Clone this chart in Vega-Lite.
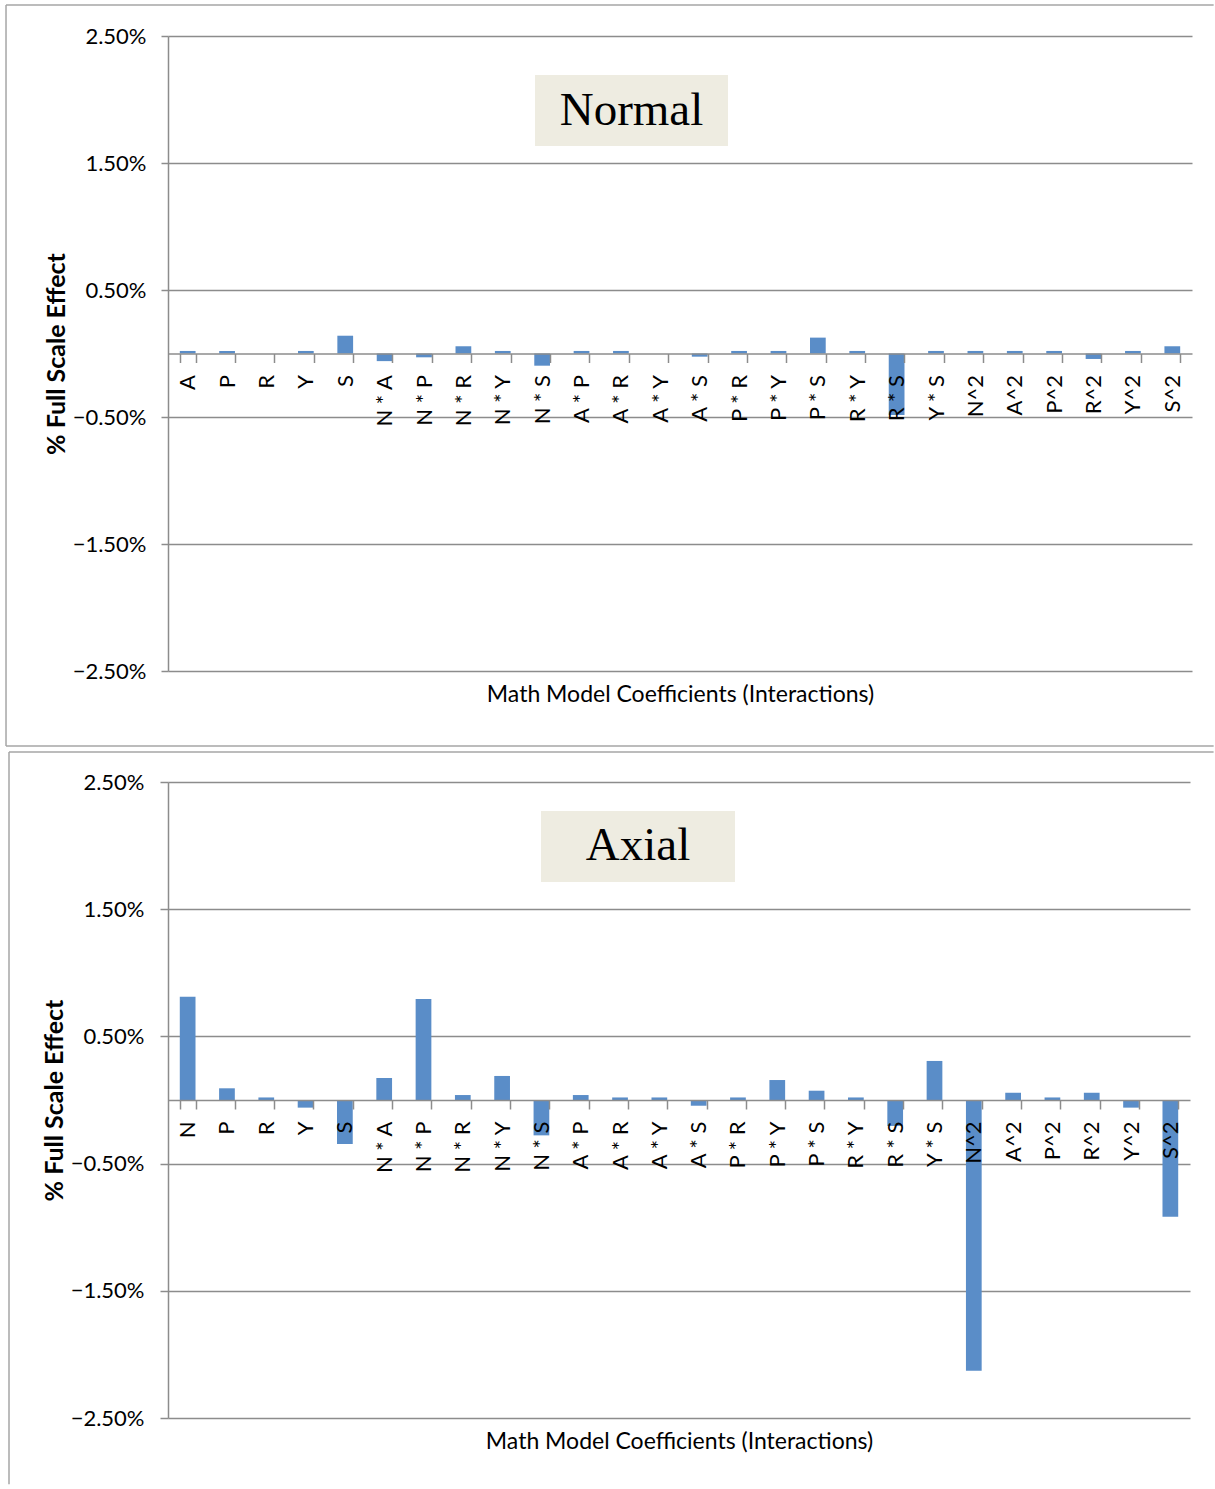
{
  "$schema": "https://vega.github.io/schema/vega-lite/v6.json",
  "padding": {"left": 5, "top": 4, "right": 0, "bottom": 0},
  "background": "white",
  "spacing": 4,
  "config": {"view": {"stroke": null}, "font": "Lato"},
  "vconcat": [
    {
      "width": 1024,
      "height": 635,
      "resolve": {"scale": {"x": "independent", "y": "independent"}},
      "layer": [
        {
          "data": {"values": [{}]},
          "mark": {"type": "rule", "color": "#A6A6A6", "strokeWidth": 1.5},
          "encoding": {
            "x": {"datum": -4.113, "type": "quantitative", "scale": {"domain": [0, 26], "nice": false, "zero": false}, "axis": null},
            "y": {"datum": 0.027441, "type": "quantitative", "scale": {"domain": [-0.025, 0.025], "nice": false, "zero": false}, "axis": null},
            "y2": {"datum": -0.030906}
          }
        },
        {
          "data": {"values": [{}]},
          "mark": {"type": "rule", "color": "#A6A6A6", "strokeWidth": 1.5},
          "encoding": {
            "x": {"datum": -4.113, "type": "quantitative", "scale": {"domain": [0, 26], "nice": false, "zero": false}, "axis": null},
            "x2": {"datum": 26.55},
            "y": {"datum": 0.027441, "type": "quantitative", "scale": {"domain": [-0.025, 0.025], "nice": false, "zero": false}, "axis": null}
          }
        },
        {
          "data": {"values": [{}]},
          "mark": {"type": "rule", "color": "#A6A6A6", "strokeWidth": 1.5},
          "encoding": {
            "x": {"datum": -4.113, "type": "quantitative", "scale": {"domain": [0, 26], "nice": false, "zero": false}, "axis": null},
            "x2": {"datum": 26.55},
            "y": {"datum": -0.030906, "type": "quantitative", "scale": {"domain": [-0.025, 0.025], "nice": false, "zero": false}, "axis": null}
          }
        },
        {
          "data": {"values": [
            {"term": "A", "effect": 0.0002},
            {"term": "P", "effect": 0.0002},
            {"term": "R", "effect": 0.0},
            {"term": "Y", "effect": 0.0002},
            {"term": "S", "effect": 0.0014},
            {"term": "N * A", "effect": -0.0006},
            {"term": "N * P", "effect": -0.0003},
            {"term": "N * R", "effect": 0.00057},
            {"term": "N * Y", "effect": 0.0002},
            {"term": "N * S", "effect": -0.00096},
            {"term": "A * P", "effect": 0.0002},
            {"term": "A * R", "effect": 0.0002},
            {"term": "A * Y", "effect": 0.0},
            {"term": "A * S", "effect": -0.00025},
            {"term": "P * R", "effect": 0.0002},
            {"term": "P * Y", "effect": 0.0002},
            {"term": "P * S", "effect": 0.00125},
            {"term": "R * Y", "effect": 0.0002},
            {"term": "R * S", "effect": -0.00484},
            {"term": "Y * S", "effect": 0.0002},
            {"term": "N^2", "effect": 0.0002},
            {"term": "A^2", "effect": 0.0002},
            {"term": "P^2", "effect": 0.0002},
            {"term": "R^2", "effect": -0.00043},
            {"term": "Y^2", "effect": 0.0002},
            {"term": "S^2", "effect": 0.00057}
          ]},
          "mark": {"type": "bar", "color": "#5A8DC8"},
          "encoding": {
            "x": {
              "field": "term", "type": "nominal", "sort": null,
              "scale": {"paddingInner": 0.6, "paddingOuter": 0.3},
              "axis": {
                "title": "Math Model Coefficients (Interactions)",
                "offset": -317.5, "labelAngle": -90, "labelPadding": 12, "labelFontSize": 22,
                "labelColor": "#000000", "labelOverlap": false, "tickBand": "extent", "tickSize": 9,
                "tickColor": "#8C8C8C", "tickWidth": 1.5, "domainColor": "#8C8C8C", "domainWidth": 1.5,
                "titleY": 340.5, "titleBaseline": "middle", "titleFontSize": 23, "titleFontWeight": "normal",
                "titleColor": "#000000", "zindex": 1, "grid": false
              }
            },
            "y": {
              "field": "effect", "type": "quantitative",
              "scale": {"domain": [-0.025, 0.025], "nice": false},
              "axis": {
                "title": "% Full Scale Effect", "values": [-0.025, -0.015, -0.005, 0.005, 0.015, 0.025],
                "format": ".2%", "grid": true, "gridColor": "#8C8C8C", "gridWidth": 1.5,
                "domainColor": "#8C8C8C", "domainWidth": 1.5, "tickColor": "#8C8C8C", "tickWidth": 1.5,
                "tickSize": 7, "labelPadding": 15, "labelFontSize": 22, "labelColor": "#000000",
                "titleFontSize": 25, "titleFontWeight": "bold", "titleColor": "#000000", "titlePadding": 3, "zindex": 0
              }
            },
            "y2": {"datum": 0}
          }
        },
        {
          "data": {"values": [{}]},
          "mark": {"type": "rect", "color": "#EEECE1"},
          "encoding": {
            "x": {"datum": 9.318, "type": "quantitative", "scale": {"domain": [0, 26], "nice": false, "zero": false}, "axis": null},
            "x2": {"datum": 14.219},
            "y": {"datum": 0.02193, "type": "quantitative", "scale": {"domain": [-0.025, 0.025], "nice": false, "zero": false}, "axis": null},
            "y2": {"datum": 0.01634}
          }
        },
        {
          "data": {"values": [{"label": "Normal"}]},
          "mark": {"type": "text", "font": "Liberation Serif", "fontSize": 47, "color": "#000000", "align": "center", "baseline": "middle"},
          "encoding": {
            "text": {"field": "label"},
            "x": {"datum": 11.768, "type": "quantitative", "scale": {"domain": [0, 26], "nice": false, "zero": false}, "axis": null},
            "y": {"datum": 0.01913, "type": "quantitative", "scale": {"domain": [-0.025, 0.025], "nice": false, "zero": false}, "axis": null}
          }
        }
      ]
    },
    {
      "width": 1022,
      "height": 636,
      "resolve": {"scale": {"x": "independent", "y": "independent"}},
      "layer": [
        {
          "data": {"values": [{}]},
          "mark": {"type": "rule", "color": "#A6A6A6", "strokeWidth": 1.5},
          "encoding": {
            "x": {"datum": -4.045, "type": "quantitative", "scale": {"domain": [0, 26], "nice": false, "zero": false}, "axis": null},
            "y": {"datum": 0.027358, "type": "quantitative", "scale": {"domain": [-0.025, 0.025], "nice": false, "zero": false}, "axis": null},
            "y2": {"datum": -0.0302}
          }
        },
        {
          "data": {"values": [{}]},
          "mark": {"type": "rule", "color": "#A6A6A6", "strokeWidth": 1.5},
          "encoding": {
            "x": {"datum": -4.045, "type": "quantitative", "scale": {"domain": [0, 26], "nice": false, "zero": false}, "axis": null},
            "x2": {"datum": 26.6},
            "y": {"datum": 0.027358, "type": "quantitative", "scale": {"domain": [-0.025, 0.025], "nice": false, "zero": false}, "axis": null}
          }
        },
        {
          "data": {"values": [
            {"term": "N", "effect": 0.00812},
            {"term": "P", "effect": 0.00092},
            {"term": "R", "effect": 0.0002},
            {"term": "Y", "effect": -0.0006},
            {"term": "S", "effect": -0.00346},
            {"term": "N * A", "effect": 0.00173},
            {"term": "N * P", "effect": 0.00794},
            {"term": "N * R", "effect": 0.00039},
            {"term": "N * Y", "effect": 0.00189},
            {"term": "N * S", "effect": -0.00278},
            {"term": "A * P", "effect": 0.00039},
            {"term": "A * R", "effect": 0.0002},
            {"term": "A * Y", "effect": 0.0002},
            {"term": "A * S", "effect": -0.00045},
            {"term": "P * R", "effect": 0.0002},
            {"term": "P * Y", "effect": 0.00157},
            {"term": "P * S", "effect": 0.00073},
            {"term": "R * Y", "effect": 0.0002},
            {"term": "R * S", "effect": -0.00204},
            {"term": "Y * S", "effect": 0.00307},
            {"term": "N^2", "effect": -0.02128},
            {"term": "A^2", "effect": 0.00057},
            {"term": "P^2", "effect": 0.0002},
            {"term": "R^2", "effect": 0.00057},
            {"term": "Y^2", "effect": -0.0006},
            {"term": "S^2", "effect": -0.00917}
          ]},
          "mark": {"type": "bar", "color": "#5A8DC8"},
          "encoding": {
            "x": {
              "field": "term", "type": "nominal", "sort": null,
              "scale": {"paddingInner": 0.6, "paddingOuter": 0.3},
              "axis": {
                "title": "Math Model Coefficients (Interactions)",
                "offset": -318, "labelAngle": -90, "labelPadding": 12, "labelFontSize": 22,
                "labelColor": "#000000", "labelOverlap": false, "tickBand": "extent", "tickSize": 9,
                "tickColor": "#8C8C8C", "tickWidth": 1.5, "domainColor": "#8C8C8C", "domainWidth": 1.5,
                "titleY": 341, "titleBaseline": "middle", "titleFontSize": 23, "titleFontWeight": "normal",
                "titleColor": "#000000", "zindex": 1, "grid": false
              }
            },
            "y": {
              "field": "effect", "type": "quantitative",
              "scale": {"domain": [-0.025, 0.025], "nice": false},
              "axis": {
                "title": "% Full Scale Effect", "values": [-0.025, -0.015, -0.005, 0.005, 0.015, 0.025],
                "format": ".2%", "grid": true, "gridColor": "#8C8C8C", "gridWidth": 1.5,
                "domainColor": "#8C8C8C", "domainWidth": 1.5, "tickColor": "#8C8C8C", "tickWidth": 1.5,
                "tickSize": 8, "labelPadding": 16, "labelFontSize": 22, "labelColor": "#000000",
                "titleFontSize": 25, "titleFontWeight": "bold", "titleColor": "#000000", "titlePadding": 3, "zindex": 0
              }
            },
            "y2": {"datum": 0}
          }
        },
        {
          "data": {"values": [{}]},
          "mark": {"type": "rect", "color": "#EEECE1"},
          "encoding": {
            "x": {"datum": 9.489, "type": "quantitative", "scale": {"domain": [0, 26], "nice": false, "zero": false}, "axis": null},
            "x2": {"datum": 14.425},
            "y": {"datum": 0.02272, "type": "quantitative", "scale": {"domain": [-0.025, 0.025], "nice": false, "zero": false}, "axis": null},
            "y2": {"datum": 0.01714}
          }
        },
        {
          "data": {"values": [{"label": "Axial"}]},
          "mark": {"type": "text", "font": "Liberation Serif", "fontSize": 47, "color": "#000000", "align": "center", "baseline": "middle"},
          "encoding": {
            "text": {"field": "label"},
            "x": {"datum": 11.957, "type": "quantitative", "scale": {"domain": [0, 26], "nice": false, "zero": false}, "axis": null},
            "y": {"datum": 0.01993, "type": "quantitative", "scale": {"domain": [-0.025, 0.025], "nice": false, "zero": false}, "axis": null}
          }
        }
      ]
    }
  ]
}
